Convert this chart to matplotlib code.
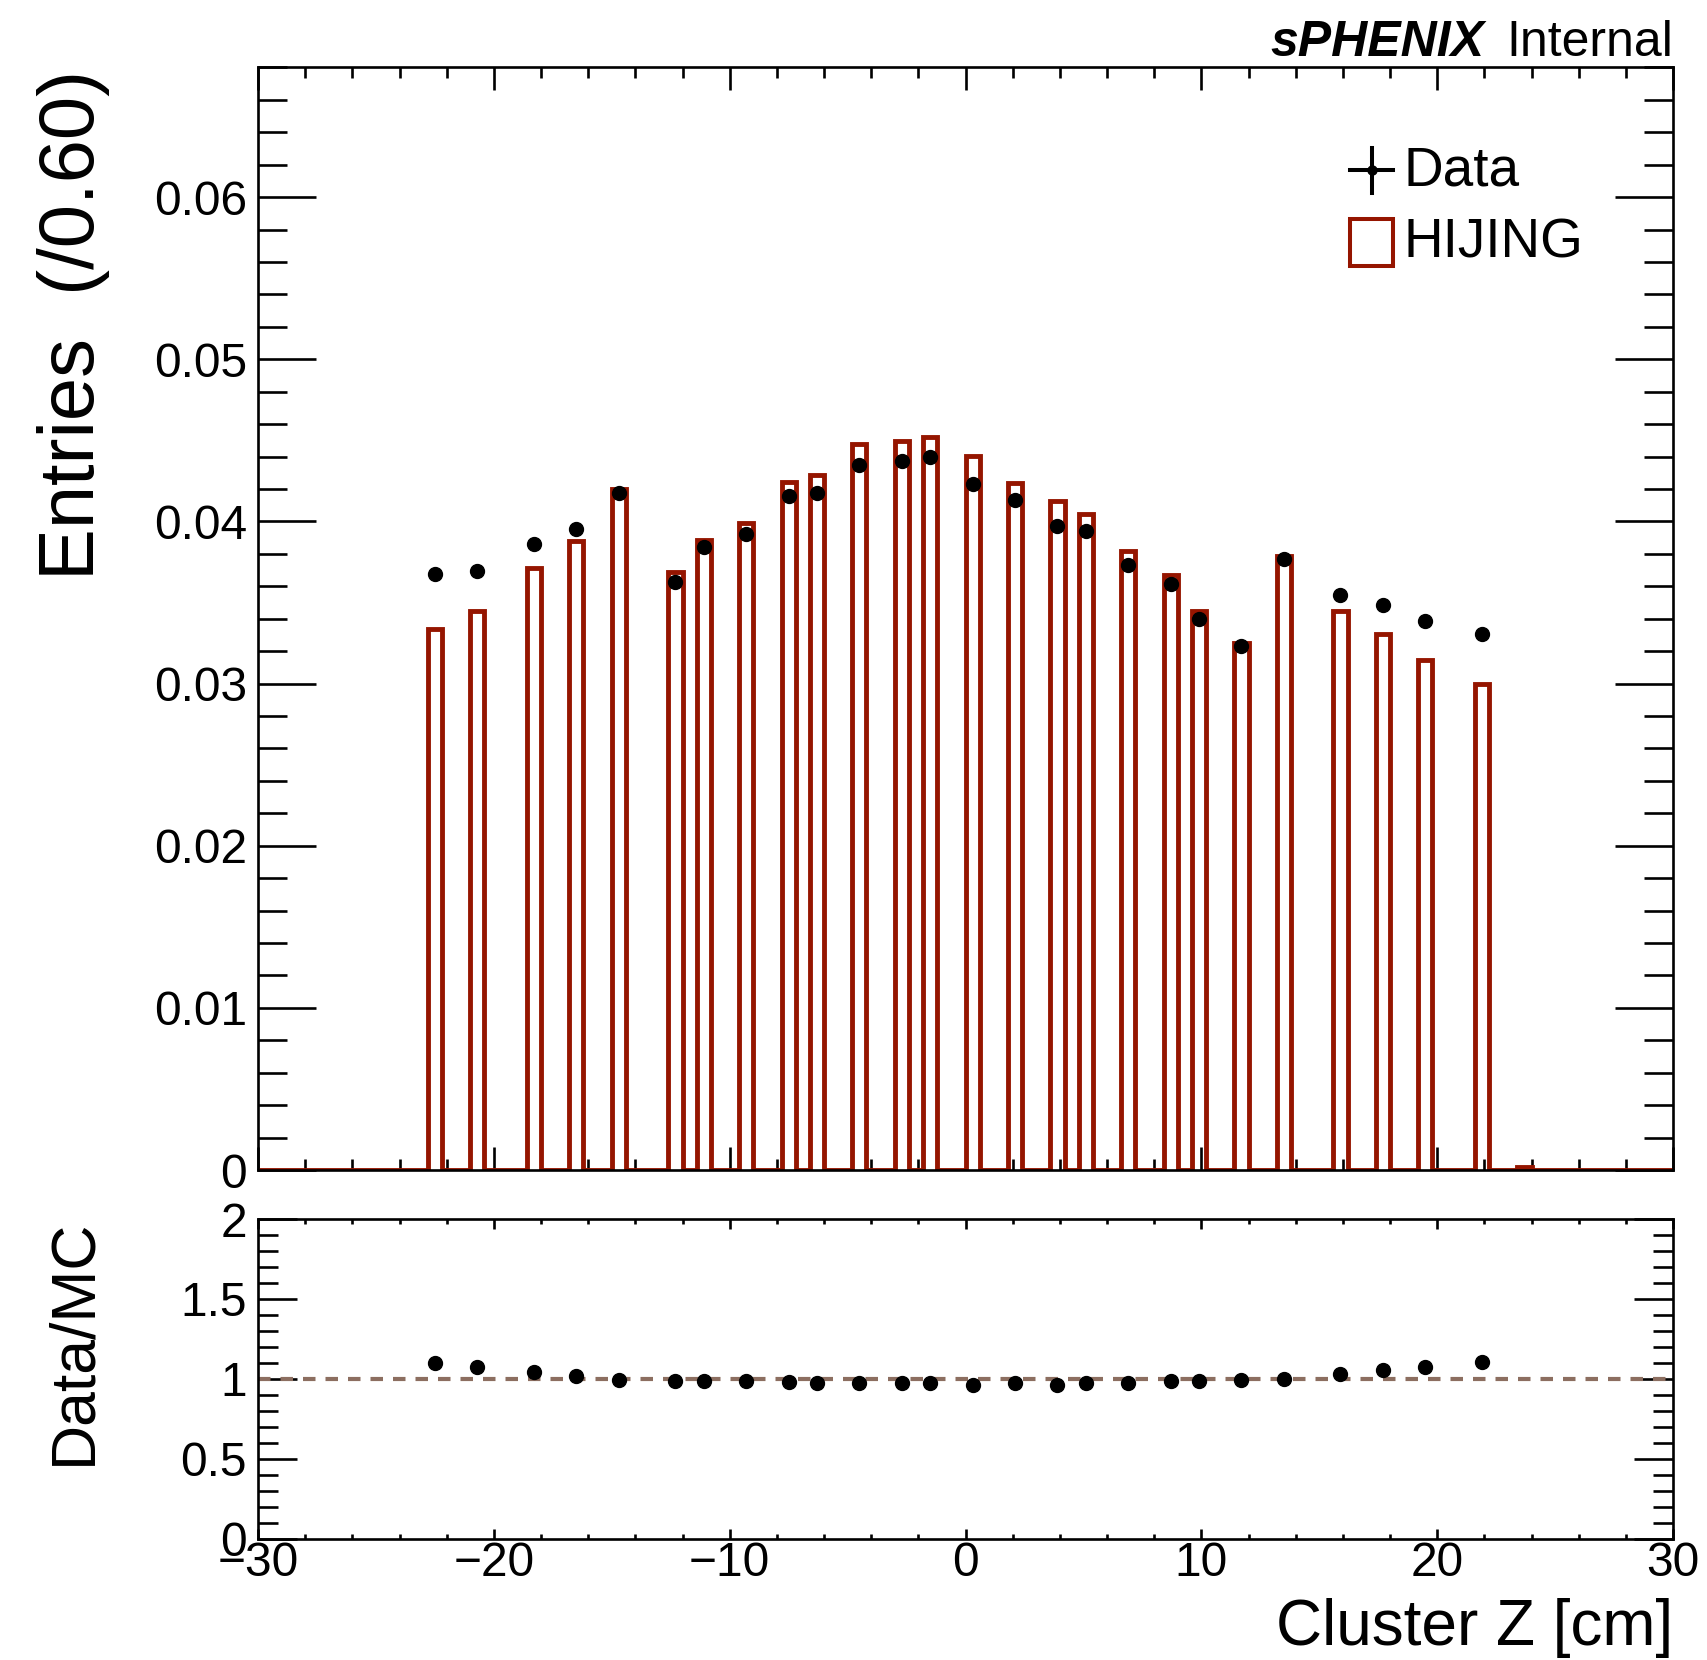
import numpy as np
import matplotlib
matplotlib.use("Agg")
import matplotlib.pyplot as plt
from matplotlib.ticker import MultipleLocator, FuncFormatter
from matplotlib.lines import Line2D
from matplotlib.patches import Rectangle

plt.rcParams['font.family'] = ['Liberation Sans', 'DejaVu Sans']

# ---------------- data ----------------
x_range = (-30.0, 30.0)
bin_width = 0.6

bin_centers = [-22.5, -20.7, -18.3, -16.5, -14.7, -12.3, -11.1, -9.3, -7.5, -6.3,
               -4.5, -2.7, -1.5, 0.3, 2.1, 3.9, 5.1, 6.9, 8.7, 9.9,
               11.7, 13.5, 15.9, 17.7, 19.5, 21.9, 23.7]
hijing = [0.03338, 0.03448, 0.03712, 0.03882, 0.04202, 0.03690, 0.03885, 0.03989, 0.04246, 0.04284,
          0.04475, 0.04494, 0.04523, 0.04406, 0.04240, 0.04124, 0.04048, 0.03819, 0.03671, 0.03445,
          0.03250, 0.03787, 0.03448, 0.03304, 0.03143, 0.02999, 0.00020]

data_centers = [-22.5, -20.7, -18.3, -16.5, -14.7, -12.3, -11.1, -9.3, -7.5, -6.3,
                -4.5, -2.7, -1.5, 0.3, 2.1, 3.9, 5.1, 6.9, 8.7, 9.9,
                11.7, 13.5, 15.9, 17.7, 19.5, 21.9]
data_vals = [0.03676, 0.03695, 0.03858, 0.03955, 0.04178, 0.03629, 0.03842, 0.03924, 0.04156, 0.04178,
             0.04351, 0.04376, 0.04398, 0.04232, 0.04131, 0.03974, 0.03940, 0.03729, 0.03616, 0.03399,
             0.03230, 0.03770, 0.03544, 0.03487, 0.03384, 0.03308]

top_ylim = (0.0, 0.068)
ratio_ylim = (0.0, 2.0)

RED = '#951500'
BROWN = '#8c6e60'

# build full histogram from the non-empty bins
n_bins = int(round((x_range[1] - x_range[0]) / bin_width))
edges = np.linspace(x_range[0], x_range[1], n_bins + 1)
mc_full = np.zeros(n_bins)
idx = np.floor((np.array(bin_centers) - x_range[0]) / bin_width + 1e-6).astype(int)
mc_full[idx] = hijing

mc_at_data = np.array([mc_full[int(np.floor((c - x_range[0]) / bin_width + 1e-6))] for c in data_centers])
ratio = np.array(data_vals) / mc_at_data

# ---------------- figure ----------------
W, H = 1707, 1660
fig = plt.figure(figsize=(W / 100, H / 100), dpi=100)
L, R = 258, 1673
top_t, top_b = 67.5, 1170
rat_t, rat_b = 1219, 1538.5
ax = fig.add_axes([L / W, 1 - top_b / H, (R - L) / W, (top_b - top_t) / H])
ax2 = fig.add_axes([L / W, 1 - rat_b / H, (R - L) / W, (rat_b - rat_t) / H])

ax.stairs(mc_full, edges, color=RED, lw=3.5, baseline=0, zorder=2, joinstyle='miter')
ax.plot(data_centers, data_vals, 'o', color='k', ms=10, zorder=5, clip_on=False)

ax2.axhline(1.0, color=BROWN, lw=3.0, dashes=(3.0, 2.4), zorder=3)
ax2.plot(data_centers, ratio, 'o', color='k', ms=10, zorder=5)

ax.set_xlim(*x_range)
ax.set_ylim(*top_ylim)
ax2.set_xlim(*x_range)
ax2.set_ylim(*ratio_ylim)

fmt = FuncFormatter(lambda v, p: f"{v:g}")
for a in (ax, ax2):
    for s in a.spines.values():
        s.set_linewidth(1.9)
        s.set_zorder(4)
    a.xaxis.set_major_locator(MultipleLocator(10))
    a.xaxis.set_minor_locator(MultipleLocator(2))
    a.tick_params(which='both', direction='in', top=True, right=True, width=1.9,
                  labelsize=34.5)
    a.yaxis.set_major_formatter(fmt)
    a.tick_params(axis='y', which='both', pad=8)
    a.tick_params(axis='x', which='both', pad=1.5)

ax.yaxis.set_major_locator(MultipleLocator(0.01))
ax.yaxis.set_minor_locator(MultipleLocator(0.002))
ax.tick_params(axis='x', which='major', length=16.5)
ax.tick_params(axis='x', which='minor', length=8)
ax.tick_params(axis='y', which='major', length=42)
ax.tick_params(axis='y', which='minor', length=21)
ax.tick_params(axis='x', labelbottom=False)

ax2.yaxis.set_major_locator(MultipleLocator(0.5))
ax2.yaxis.set_minor_locator(MultipleLocator(0.1))
ax2.tick_params(axis='x', which='major', length=7.2)
ax2.tick_params(axis='x', which='minor', length=3.6)
ax2.tick_params(axis='y', which='major', length=28)
ax2.tick_params(axis='y', which='minor', length=14.4)

# axis titles
ax.set_ylabel("Entries  (/0.60)", fontsize=56, ha='right', va='baseline', rotation=90,
              rotation_mode='anchor')
ax.yaxis.set_label_coords((94 - L) / (R - L), (top_b - 70) / (top_b - top_t))
ax2.set_ylabel("Data/MC", fontsize=45, ha='right', va='baseline', rotation=90,
               rotation_mode='anchor')
ax2.yaxis.set_label_coords((90 - L) / (R - L), (rat_b - 1219) / (rat_b - rat_t))
ax2.set_xlabel("Cluster Z [cm]", fontsize=46, ha='right', va='baseline')
ax2.xaxis.set_label_coords(1.0, (rat_b - 1645) / (rat_b - rat_t))

# header
fig.text(1270 / W, 1 - 56 / H, "sPHENIX", fontsize=36, fontweight='bold', fontstyle='italic',
         ha='left', va='baseline')
fig.text(R / W, 1 - 56 / H, "Internal", fontsize=36, ha='right', va='baseline')

# legend (drawn manually)
def axc(px, py):
    return (px - L) / (R - L), (top_b - py) / (top_b - top_t)

cx, cy = axc(1372, 170)
x0, _ = axc(1350, 170)
x1, _ = axc(1393, 170)
_, y0 = axc(1372, 193)
_, y1 = axc(1372, 148)
ax.add_line(Line2D([x0, x1], [cy, cy], color='k', lw=2.9, transform=ax.transAxes, clip_on=False))
ax.add_line(Line2D([cx, cx], [y0, y1], color='k', lw=2.9, transform=ax.transAxes, clip_on=False))
ax.add_line(Line2D([cx], [cy], marker='o', ms=6.5, color='k', transform=ax.transAxes, clip_on=False))
bx0, by0 = axc(1350, 266)
bx1, by1 = axc(1393, 219)
ax.add_patch(Rectangle((bx0, by0), bx1 - bx0, by1 - by0, fill=False, ec=RED, lw=2.9,
                       transform=ax.transAxes, clip_on=False))
tx, ty = axc(1403, 185)
ax.text(tx, ty, "Data", fontsize=39.5, ha='left', va='baseline', transform=ax.transAxes)
tx, ty = axc(1403, 258)
ax.text(tx, ty, "HIJING", fontsize=39.5, ha='left', va='baseline', transform=ax.transAxes)

fig.savefig("out.png", dpi=100)
